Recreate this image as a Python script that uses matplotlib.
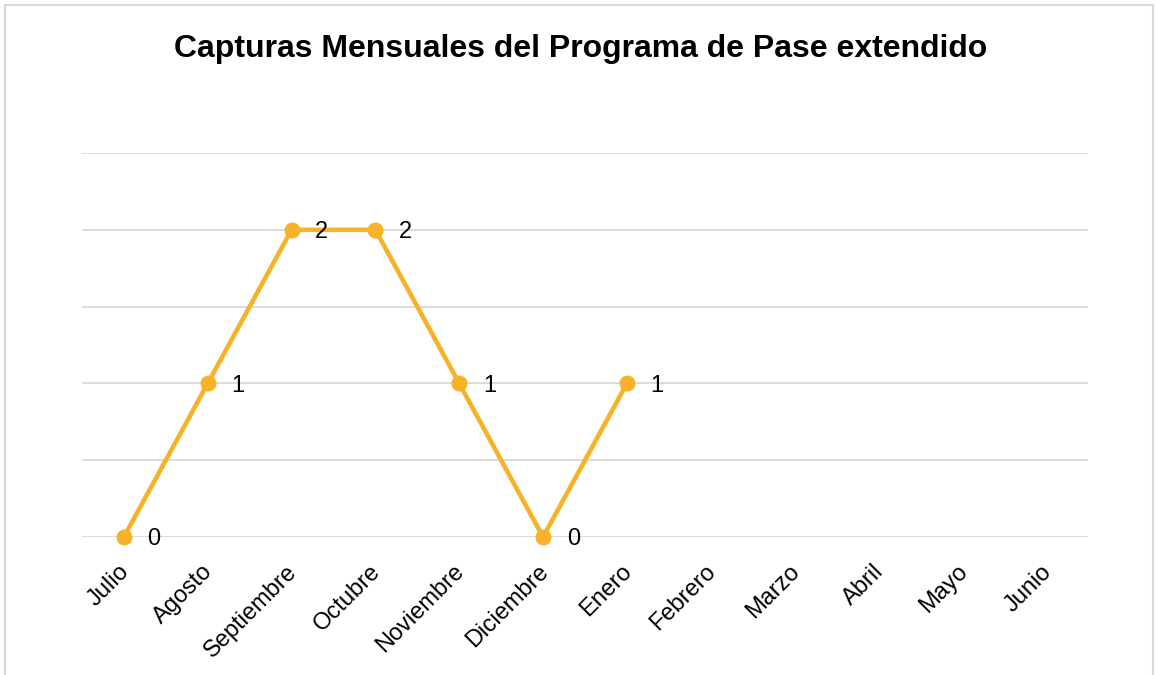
import matplotlib
matplotlib.use("Agg")
import matplotlib.pyplot as plt
from matplotlib.patches import Rectangle
from matplotlib.transforms import ScaledTranslation

months = ["Julio", "Agosto", "Septiembre", "Octubre", "Noviembre", "Diciembre",
          "Enero", "Febrero", "Marzo", "Abril", "Mayo", "Junio"]
values = [0, 1, 2, 2, 1, 0, 1]
title = "Capturas Mensuales del Programa de Pase extendido"

plt.rcParams['font.family'] = ['Liberation Sans', 'DejaVu Sans']

fig = plt.figure(figsize=(11.56, 6.75), dpi=100)
ax = fig.add_axes([0.0709, 0.2044, 0.8703, 0.5689])

x = list(range(len(values)))
ax.plot(x, values, color="#F7B229", linewidth=3.3, marker="o", markersize=10.5,
        solid_capstyle="round", zorder=3, clip_on=False)
for xi, v in zip(x, values):
    ax.annotate(str(v), (xi, v), xytext=(17, -1.5), textcoords="offset points",
                ha="left", va="center", fontsize=17, color="black")

ax.set_xlim(-0.5, len(months) - 0.5)
ax.set_ylim(0, 2.5)
ax.set_yticks([0, 0.5, 1, 1.5, 2, 2.5])
ax.set_yticklabels([])
ax.tick_params(axis="y", length=0)
ax.tick_params(axis="x", length=0, pad=12)
ax.set_xticks(range(len(months)))
ax.set_xticklabels(months, rotation=45, ha="right", rotation_mode="anchor", fontsize=17)
offset = ScaledTranslation(-6 / 100, -7 / 100, fig.dpi_scale_trans)
for lbl in ax.get_xticklabels():
    lbl.set_transform(lbl.get_transform() + offset)
ax.grid(axis="y", color="#D9D9D9", linewidth=1.3)
ax.set_axisbelow(True)
for s in ax.spines.values():
    s.set_visible(False)
ax.set_facecolor("none")

fig.text(0.502, 0.928, title, ha="center", va="center", fontsize=23, fontweight="bold")
fig.patches.append(Rectangle((0.004, -0.01), 0.993, 1.003, transform=fig.transFigure,
                             fill=False, edgecolor="#D9D9D9", linewidth=1.5))

fig.savefig("out.png", dpi=100)
